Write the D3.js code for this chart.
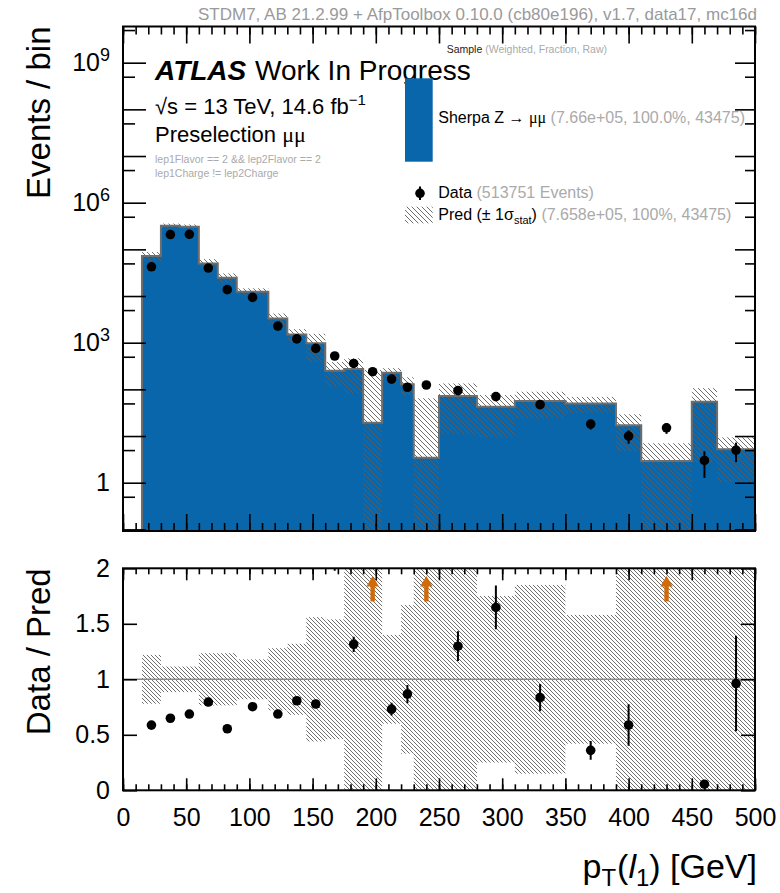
<!DOCTYPE html>
<html>
<head>
<meta charset="utf-8">
<script src="https://cdn.jsdelivr.net/npm/d3@7"></script>
<style>
    body { margin: 0; background: #fff; }
    svg { display: block; font-family: "Liberation Sans", Arial, Helvetica, sans-serif; }
</style>
</head>
<body>
<svg id="plot" width="780" height="893"></svg>
<script>
// bins in pT(l1) [GeV]
const binEdges = [15, 30, 45, 60, 75, 90, 115, 130, 145, 160, 175, 190, 205, 220, 230, 250, 280, 310, 350, 390, 410, 450, 470, 500];
const mcCounts = [72000, 320000, 306000, 50000, 24700, 12400, 3300, 1500, 970, 251, 273, 19.3, 227, 128, 3.43, 72.4, 42.5, 56.3, 50, 17, 2.92, 54.5, 5.2];
const mcRelErr = [0.22, 0.115, 0.115, 0.235, 0.235, 0.18, 0.28, 0.3, 0.6, 0.54, 0.7, 12.5, 0.25, 0.42, 17.8, 0.85, 0.78, 0.58, 0.38, 0.72, 1.4, 0.95, 0.8];
const ratioBandErr = [0.22, 0.115, 0.115, 0.235, 0.235, 0.18, 0.28, 0.32, 0.56, 0.54, 1.0, 1.0, 0.4, 0.67, 1.0, 1.0, 0.75, 0.85, 0.58, 1.0, 1.0, 1.0, 1.0];
const dataCounts = [42300, 207700, 210200, 39750, 13700, 9340, 2267, 1210, 754, 519, 359, 239, 166, 111, 124, 94, 70, 47, 18, 10, 15, 3, 5];

const xMajorTicks = [0, 50, 100, 150, 200, 250, 300, 350, 400, 450, 500];
const xMinorTicks = d3.range(0, 501, 10);
const logMajorTicks = [0.1, 1, 10, 100, 1e3, 1e4, 1e5, 1e6, 1e7, 1e8, 1e9];
const logMinorTicks = [0.5, 5, 50, 500, 5e3, 5e4, 5e5, 5e6, 5e7, 5e8, 5e9];
const logLabelTicks = [1, 1e3, 1e6, 1e9];
const ratioTicks = [0, 0.5, 1, 1.5, 2];

const svg = d3.select("#plot");
const blue = "#0a66aa";
const L = 123, R = 755;
const topT = 26.5, topB = 531;
const ratT = 568.3, ratB = 790.3;
const yMin = 0.0923, yMax = 5.96e9;

const x = d3.scaleLinear().domain([0, 500]).range([L, R]);
const yTop = d3.scaleLog().domain([yMin, yMax]).range([topB, topT]);
const yRat = d3.scaleLinear().domain([0, 2]).range([ratB, ratT]);

const defs = svg.append("defs");
function addHatch(id, s, color, w) {
    defs.append("pattern")
        .attr("id", id)
        .attr("patternUnits", "userSpaceOnUse")
        .attr("width", s)
        .attr("height", s)
        .append("path")
        .attr("d", `M-1,-1 L${s + 1},${s + 1} M${s - 1},-1 L${s + 1},1 M-1,${s - 1} L1,${s + 1}`)
        .attr("stroke", color)
        .attr("stroke-width", w);
}
addHatch("hatchTop", 5, "#5e5e5e", 0.9);
addHatch("hatchRat", 4, "#5e5e5e", 0.9);

defs.append("clipPath").attr("id", "clipTop")
    .append("rect").attr("x", L).attr("y", topT).attr("width", R - L).attr("height", topB - topT);
defs.append("clipPath").attr("id", "clipRat")
    .append("rect").attr("x", L).attr("y", ratT).attr("width", R - L).attr("height", ratB - ratT);

const bins = mcCounts.map((mc, i) => ({
    lo: binEdges[i],
    hi: binEdges[i + 1],
    mc: mc,
    err: mcRelErr[i],
    band: ratioBandErr[i],
    data: dataCounts[i],
}));

// ---------- top panel ----------
const gTop = svg.append("g").attr("clip-path", "url(#clipTop)");

const stepPts = [[binEdges[0], yMin]]
    .concat(bins.map(b => [b.lo, b.mc]))
    .concat([[500, bins[bins.length - 1].mc]]);

gTop.append("path")
    .attr("d", d3.area().curve(d3.curveStepAfter)
        .x(d => x(d[0])).y0(topB).y1(d => yTop(d[1]))(stepPts))
    .attr("fill", blue);

gTop.selectAll("rect.band")
    .data(bins)
    .enter()
    .append("rect")
    .attr("class", "band")
    .attr("x", d => x(d.lo))
    .attr("width", d => x(d.hi) - x(d.lo))
    .attr("y", d => yTop(d.mc * (1 + d.err)))
    .attr("height", d => yTop(Math.max(d.mc * (1 - d.err), yMin)) - yTop(d.mc * (1 + d.err)))
    .attr("fill", "url(#hatchTop)");

gTop.append("path")
    .attr("d", d3.line().curve(d3.curveStepAfter).x(d => x(d[0])).y(d => yTop(d[1]))(stepPts))
    .attr("fill", "none")
    .attr("stroke", "#6e6e6e")
    .attr("stroke-width", 2);

gTop.selectAll("line.derr")
    .data(bins)
    .enter()
    .append("line")
    .attr("class", "derr")
    .attr("x1", d => x((d.lo + d.hi) / 2))
    .attr("x2", d => x((d.lo + d.hi) / 2))
    .attr("y1", d => yTop(d.data + Math.sqrt(d.data)))
    .attr("y2", d => yTop(Math.max(d.data - Math.sqrt(d.data), yMin)))
    .attr("stroke", "#000")
    .attr("stroke-width", 2);

gTop.selectAll("circle.dpt")
    .data(bins)
    .enter()
    .append("circle")
    .attr("class", "dpt")
    .attr("cx", d => x((d.lo + d.hi) / 2))
    .attr("cy", d => yTop(d.data))
    .attr("r", 4.8)
    .attr("fill", "#000");

// ---------- ratio panel ----------
const gRat = svg.append("g").attr("clip-path", "url(#clipRat)");

gRat.selectAll("rect.band")
    .data(bins)
    .enter()
    .append("rect")
    .attr("x", d => x(d.lo))
    .attr("width", d => x(d.hi) - x(d.lo))
    .attr("y", d => yRat(Math.min(2.05, 1 + d.band)))
    .attr("height", d => yRat(Math.max(-0.05, 1 - d.band)) - yRat(Math.min(2.05, 1 + d.band)))
    .attr("fill", "url(#hatchRat)");

gRat.append("line")
    .attr("x1", L).attr("x2", R)
    .attr("y1", yRat(1)).attr("y2", yRat(1))
    .attr("stroke", "#8a8a8a")
    .attr("stroke-width", 1.5);

const ratios = bins.map(b => ({
    xc: (b.lo + b.hi) / 2,
    r: b.data / b.mc,
    e: Math.sqrt(b.data) / b.mc,
}));
const inRange = ratios.filter(d => d.r - d.e <= 2);
const arrows = ratios.filter(d => d.r - d.e > 2);

gRat.selectAll("line.rerr")
    .data(inRange)
    .enter()
    .append("line")
    .attr("x1", d => x(d.xc)).attr("x2", d => x(d.xc))
    .attr("y1", d => yRat(d.r + d.e)).attr("y2", d => yRat(d.r - d.e))
    .attr("stroke", "#000")
    .attr("stroke-width", 2);

gRat.selectAll("circle.rpt")
    .data(inRange)
    .enter()
    .append("circle")
    .attr("cx", d => x(d.xc))
    .attr("cy", d => yRat(d.r))
    .attr("r", 4.8)
    .attr("fill", "#000");

svg.selectAll("path.arrow")
    .data(arrows)
    .enter()
    .append("path")
    .attr("d", d => {
        const cx = x(d.xc), tip = yRat(1.93), base = yRat(1.835), end = yRat(1.7);
        return `M${cx},${tip} L${cx + 6.3},${base} L${cx + 2.2},${base} L${cx + 2.2},${end} L${cx - 2.2},${end} L${cx - 2.2},${base} L${cx - 6.3},${base} Z`;
    })
    .attr("fill", "#d06a0a");

// ---------- axes ----------
function styleAxis(g, size) {
    g.select(".domain").remove();
    g.selectAll(".tick line").attr("stroke", "#000").attr("stroke-width", 1.6);
    g.attr("font-family", null).attr("font-size", size);
    g.selectAll(".tick text").attr("fill", "#000");
}

function ticks(axis, translate, values, len, fmt, pad) {
    const g = svg.append("g")
        .attr("transform", translate)
        .call(axis.tickValues(values).tickSize(-len).tickPadding(pad || 3).tickFormat(fmt || (() => "")));
    styleAxis(g, 25);
    return g;
}

// top panel
ticks(d3.axisBottom(x), `translate(0,${topB})`, xMajorTicks, 17);
ticks(d3.axisBottom(x), `translate(0,${topB})`, xMinorTicks, 8);
ticks(d3.axisTop(x), `translate(0,${topT})`, xMajorTicks, 17);
ticks(d3.axisTop(x), `translate(0,${topT})`, xMinorTicks, 8);
ticks(d3.axisRight(yTop), `translate(${R},0)`, logMajorTicks, 20);
ticks(d3.axisRight(yTop), `translate(${R},0)`, logMinorTicks, 10);
ticks(d3.axisLeft(yTop), `translate(${L},0)`, logMinorTicks, 12);
const yAxisTop = ticks(d3.axisLeft(yTop), `translate(${L},0)`, logMajorTicks, 23, null, 13);
yAxisTop.selectAll(".tick text").each(function (d) {
    const t = d3.select(this);
    if (!logLabelTicks.includes(d)) return;
    const p = Math.round(Math.log10(d));
    if (p === 0) {
        t.text("1");
        return;
    }
    t.append("tspan").text("10");
    t.append("tspan").attr("dy", "-0.55em").attr("font-size", 18).text(p);
});

// ratio panel
ticks(d3.axisBottom(x), `translate(0,${ratB})`, xMajorTicks, 12, d => d, 18);
ticks(d3.axisBottom(x), `translate(0,${ratB})`, xMinorTicks, 6);
ticks(d3.axisTop(x), `translate(0,${ratT})`, xMajorTicks, 12);
ticks(d3.axisTop(x), `translate(0,${ratT})`, xMinorTicks, 6);
ticks(d3.axisLeft(yRat), `translate(${L},0)`, ratioTicks, 14, d => d, 13);
ticks(d3.axisRight(yRat), `translate(${R},0)`, ratioTicks, 14);

// frames
[[topT, topB], [ratT, ratB]].forEach(([t, b]) => {
    svg.append("rect")
        .attr("x", L).attr("y", t)
        .attr("width", R - L).attr("height", b - t)
        .attr("fill", "none")
        .attr("stroke", "#000")
        .attr("stroke-width", 2);
});

// ---------- titles ----------
svg.append("text")
    .attr("transform", `translate(50,${topT}) rotate(-90)`)
    .attr("text-anchor", "end")
    .attr("font-size", 33)
    .text("Events / bin");

svg.append("text")
    .attr("transform", `translate(50,${ratT}) rotate(-90)`)
    .attr("text-anchor", "end")
    .attr("font-size", 33)
    .text("Data / Pred");

const xt = svg.append("text")
    .attr("x", 757)
    .attr("y", 878)
    .attr("text-anchor", "end")
    .attr("font-size", 34);
xt.append("tspan").text("p");
xt.append("tspan").attr("dy", 8).attr("font-size", 24).text("T");
xt.append("tspan").attr("dy", -8).attr("dx", 1).text("(");
xt.append("tspan").attr("font-style", "italic").text("l");
xt.append("tspan").attr("dy", 8).attr("font-size", 24).text("1");
xt.append("tspan").attr("dy", -8).text(") [GeV]");

svg.append("text")
    .attr("x", 757)
    .attr("y", 19.5)
    .attr("text-anchor", "end")
    .attr("font-size", 17)
    .attr("fill", "#9a9a9a")
    .text("STDM7, AB 21.2.99 + AfpToolbox 0.10.0 (cb80e196), v1.7, data17, mc16d");

// ATLAS label
svg.append("text")
    .attr("x", 155).attr("y", 80)
    .attr("font-size", 28)
    .attr("font-weight", "bold")
    .attr("font-style", "italic")
    .text("ATLAS");
svg.append("text")
    .attr("x", 255).attr("y", 80)
    .attr("font-size", 28)
    .text("Work In Progress");

const lumi = svg.append("text").attr("x", 155).attr("y", 114).attr("font-size", 22);
lumi.append("tspan").text("\u221As = 13 TeV, 14.6 fb");
lumi.append("tspan").attr("dy", -9).attr("font-size", 15).text("\u22121");

const presel = svg.append("text").attr("x", 155).attr("y", 141.7).attr("font-size", 22);
presel.append("tspan").text("Preselection ");
presel.append("tspan").attr("font-family", "'Liberation Serif', 'DejaVu Serif', serif").text("\u03bc\u03bc");

svg.append("text")
    .attr("x", 155).attr("y", 162.7)
    .attr("font-size", 10.5).attr("fill", "#aaa")
    .text("lep1Flavor == 2 && lep2Flavor == 2");
svg.append("text")
    .attr("x", 155).attr("y", 176.5)
    .attr("font-size", 10.5).attr("fill", "#aaa")
    .text("lep1Charge != lep2Charge");

// ---------- legend ----------
const hdr = svg.append("text").attr("x", 446.7).attr("y", 53.3).attr("font-size", 10.5);
hdr.append("tspan").attr("fill", "#222").text("Sample");
hdr.append("tspan").attr("fill", "#aaa").text(" (Weighted, Fraction, Raw)");

svg.append("rect")
    .attr("x", 405).attr("y", 78.3)
    .attr("width", 27.7).attr("height", 83.4)
    .attr("fill", blue);

const l1 = svg.append("text").attr("x", 438.3).attr("y", 123.3).attr("font-size", 16);
l1.append("tspan").text("Sherpa Z \u2192 ");
l1.append("tspan").attr("font-family", "'Liberation Serif', 'DejaVu Serif', serif").text("\u03bc\u03bc");
l1.append("tspan").attr("fill", "#aaa").text(" (7.66e+05, 100.0%, 43475)");

svg.append("line")
    .attr("x1", 420).attr("x2", 420)
    .attr("y1", 186.5).attr("y2", 200)
    .attr("stroke", "#000").attr("stroke-width", 2);
svg.append("circle").attr("cx", 420).attr("cy", 193.3).attr("r", 4.8).attr("fill", "#000");

const l2 = svg.append("text").attr("x", 438.3).attr("y", 198.3).attr("font-size", 16);
l2.append("tspan").text("Data");
l2.append("tspan").attr("fill", "#aaa").text(" (513751 Events)");

svg.append("rect")
    .attr("x", 405).attr("y", 206.7)
    .attr("width", 27.7).attr("height", 16.6)
    .attr("fill", "url(#hatchTop)");

const l3 = svg.append("text").attr("x", 438.3).attr("y", 220).attr("font-size", 16);
l3.append("tspan").text("Pred (\u00b1 1\u03c3");
l3.append("tspan").attr("dy", 4).attr("font-size", 11).text("stat");
l3.append("tspan").attr("dy", -4).text(")");
l3.append("tspan").attr("fill", "#aaa").text(" (7.658e+05, 100%, 43475)");
</script>
</body>
</html>
